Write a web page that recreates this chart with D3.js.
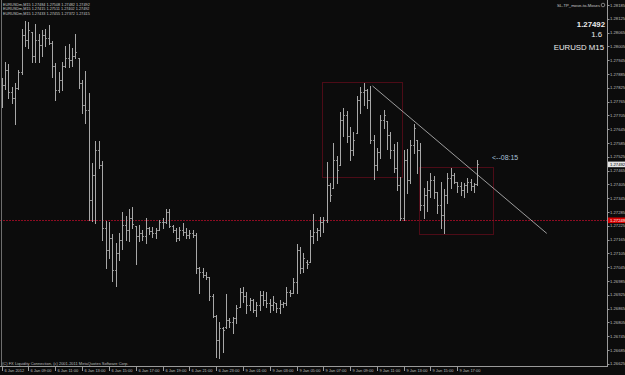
<!DOCTYPE html>
<html>
<head>
<meta charset="utf-8">
<script src="https://cdn.jsdelivr.net/npm/d3@7/dist/d3.min.js"></script>
<style>
  html, body { margin: 0; padding: 0; background: #0c0c0c; }
  svg { display: block; }
  text { font-family: "Liberation Sans", Arial, sans-serif; }
</style>
</head>
<body>
<div id="chart"></div>
<script>
// EURUSD M15, one bar per 15 minutes, 6 Jan 2012 07:00 onwards
const opens = [
  1.27772, 1.27837, 1.27902, 1.27807, 1.27781, 1.27824, 1.27894, 1.28055, 1.28033, 1.28068,
  1.27963, 1.28033, 1.28011, 1.28055, 1.28042, 1.28020, 1.27920, 1.27815, 1.27859, 1.27920,
  1.27955, 1.27946, 1.27963, 1.27955, 1.27846, 1.27750, 1.27729, 1.27337, 1.27446, 1.27555,
  1.27489, 1.27215, 1.27120, 1.27172, 1.27033, 1.27107, 1.27163, 1.27229, 1.27207, 1.27259,
  1.27224, 1.27181, 1.27194, 1.27181, 1.27215, 1.27202, 1.27194, 1.27207, 1.27242, 1.27242,
  1.27285, 1.27224, 1.27207, 1.27172, 1.27207, 1.27198, 1.27185, 1.27194, 1.27185, 1.27042,
  1.27024, 1.27011, 1.27002, 1.26920, 1.26833, 1.26728, 1.26781, 1.26785, 1.26815, 1.26807,
  1.26824, 1.26872, 1.26937, 1.26920, 1.26881, 1.26902, 1.26859, 1.26881, 1.26924, 1.26902,
  1.26889, 1.26881, 1.26889, 1.26868, 1.26885, 1.26889, 1.26937, 1.26933, 1.26981, 1.27120,
  1.27042, 1.27068, 1.27068, 1.27181, 1.27198, 1.27207, 1.27242, 1.27250, 1.27402, 1.27389,
  1.27511, 1.27489, 1.27685, 1.27707, 1.27615, 1.27555, 1.27628, 1.27772, 1.27807, 1.27815,
  1.27772, 1.27598, 1.27489, 1.27546, 1.27685, 1.27681, 1.27620, 1.27555, 1.27476, 1.27402,
  1.27259, 1.27511, 1.27424, 1.27576, 1.27598, 1.27555, 1.27315, 1.27359, 1.27381, 1.27424,
  1.27372, 1.27315, 1.27272, 1.27359, 1.27433, 1.27446, 1.27415, 1.27398, 1.27381, 1.27402,
  1.27415, 1.27398, 1.27407
]
const highs = [
  1.27868, 1.27937, 1.27928, 1.27828, 1.27846, 1.27902, 1.28081, 1.28115, 1.28111, 1.28068,
  1.28102, 1.28059, 1.28076, 1.28081, 1.28098, 1.28028, 1.27933, 1.27894, 1.27937, 1.28007,
  1.28015, 1.27998, 1.28059, 1.27955, 1.27859, 1.27898, 1.27802, 1.27498, 1.27594, 1.27594,
  1.27507, 1.27246, 1.27242, 1.27189, 1.27150, 1.27194, 1.27285, 1.27268, 1.27298, 1.27307,
  1.27224, 1.27229, 1.27207, 1.27259, 1.27220, 1.27220, 1.27215, 1.27250, 1.27259, 1.27298,
  1.27298, 1.27229, 1.27215, 1.27220, 1.27237, 1.27215, 1.27207, 1.27207, 1.27194, 1.27046,
  1.27042, 1.27024, 1.27002, 1.26928, 1.26837, 1.26807, 1.26785, 1.26928, 1.26824, 1.26828,
  1.26881, 1.26955, 1.26959, 1.26937, 1.26911, 1.26907, 1.26894, 1.26942, 1.26942, 1.26937,
  1.26907, 1.26920, 1.26889, 1.26902, 1.26894, 1.26959, 1.26946, 1.26998, 1.27146, 1.27133,
  1.27107, 1.27076, 1.27207, 1.27276, 1.27215, 1.27263, 1.27263, 1.27502, 1.27411, 1.27585,
  1.27528, 1.27720, 1.27737, 1.27724, 1.27655, 1.27633, 1.27789, 1.27828, 1.27846, 1.27820,
  1.27833, 1.27620, 1.27563, 1.27707, 1.27729, 1.27681, 1.27633, 1.27581, 1.27589, 1.27437,
  1.27555, 1.27559, 1.27598, 1.27668, 1.27598, 1.27585, 1.27389, 1.27420, 1.27455, 1.27442,
  1.27372, 1.27415, 1.27385, 1.27455, 1.27476, 1.27455, 1.27415, 1.27415, 1.27411, 1.27433,
  1.27428, 1.27411, 1.27511
]
const lows = [
  1.27742, 1.27820, 1.27781, 1.27759, 1.27668, 1.27820, 1.27885, 1.28007, 1.27998, 1.27937,
  1.27937, 1.27937, 1.27963, 1.28007, 1.28015, 1.27872, 1.27772, 1.27807, 1.27815, 1.27915,
  1.27915, 1.27920, 1.27955, 1.27824, 1.27715, 1.27672, 1.27250, 1.27246, 1.27237, 1.27476,
  1.27163, 1.27042, 1.27085, 1.26985, 1.26963, 1.27076, 1.27124, 1.27163, 1.27159, 1.27215,
  1.27059, 1.27159, 1.27163, 1.27150, 1.27189, 1.27176, 1.27172, 1.27207, 1.27215, 1.27237,
  1.27220, 1.27198, 1.27159, 1.27163, 1.27185, 1.27172, 1.27172, 1.27176, 1.27020, 1.26933,
  1.27002, 1.26994, 1.26902, 1.26828, 1.26655, 1.26650, 1.26676, 1.26781, 1.26785, 1.26759,
  1.26802, 1.26872, 1.26894, 1.26846, 1.26859, 1.26850, 1.26833, 1.26859, 1.26881, 1.26872,
  1.26850, 1.26859, 1.26850, 1.26846, 1.26872, 1.26881, 1.26920, 1.26933, 1.26933, 1.27020,
  1.27024, 1.27042, 1.27068, 1.27150, 1.27163, 1.27181, 1.27198, 1.27242, 1.27333, 1.27389,
  1.27411, 1.27489, 1.27615, 1.27589, 1.27511, 1.27533, 1.27628, 1.27715, 1.27750, 1.27737,
  1.27585, 1.27428, 1.27468, 1.27520, 1.27650, 1.27559, 1.27520, 1.27459, 1.27381, 1.27250,
  1.27250, 1.27368, 1.27411, 1.27542, 1.27455, 1.27294, 1.27259, 1.27289, 1.27350, 1.27346,
  1.27281, 1.27215, 1.27194, 1.27324, 1.27389, 1.27411, 1.27372, 1.27359, 1.27350, 1.27372,
  1.27381, 1.27372, 1.27402
]
const closes = [
  1.27837, 1.27902, 1.27807, 1.27781, 1.27824, 1.27894, 1.28055, 1.28033, 1.28076, 1.27963,
  1.28033, 1.28011, 1.28055, 1.28042, 1.28020, 1.27920, 1.27815, 1.27859, 1.27920, 1.27955,
  1.27946, 1.27963, 1.27981, 1.27846, 1.27750, 1.27729, 1.27337, 1.27446, 1.27555, 1.27489,
  1.27215, 1.27120, 1.27172, 1.27033, 1.27107, 1.27163, 1.27229, 1.27207, 1.27259, 1.27233,
  1.27181, 1.27194, 1.27181, 1.27215, 1.27202, 1.27194, 1.27207, 1.27242, 1.27242, 1.27285,
  1.27224, 1.27207, 1.27172, 1.27207, 1.27198, 1.27185, 1.27194, 1.27185, 1.27042, 1.27024,
  1.27011, 1.27002, 1.26920, 1.26833, 1.26728, 1.26781, 1.26772, 1.26815, 1.26807, 1.26824,
  1.26868, 1.26937, 1.26920, 1.26881, 1.26902, 1.26859, 1.26881, 1.26924, 1.26902, 1.26889,
  1.26881, 1.26894, 1.26868, 1.26885, 1.26889, 1.26937, 1.26933, 1.26981, 1.27120, 1.27042,
  1.27085, 1.27059, 1.27181, 1.27198, 1.27207, 1.27242, 1.27250, 1.27402, 1.27359, 1.27511,
  1.27468, 1.27685, 1.27707, 1.27615, 1.27555, 1.27598, 1.27772, 1.27807, 1.27815, 1.27772,
  1.27598, 1.27489, 1.27546, 1.27685, 1.27707, 1.27620, 1.27555, 1.27476, 1.27402, 1.27259,
  1.27511, 1.27424, 1.27576, 1.27650, 1.27555, 1.27315, 1.27359, 1.27381, 1.27424, 1.27372,
  1.27315, 1.27272, 1.27359, 1.27433, 1.27446, 1.27415, 1.27398, 1.27381, 1.27402, 1.27415,
  1.27398, 1.27407, 1.27492
]

const time_labels = [
  '6 Jan 2012', '6 Jan 09:00', '6 Jan 11:00', '6 Jan 13:00', '6 Jan 15:00', '6 Jan 17:00',
  '6 Jan 19:00', '6 Jan 21:00', '6 Jan 23:00', '9 Jan 01:00', '9 Jan 03:00', '9 Jan 05:00',
  '9 Jan 07:00', '9 Jan 09:00', '9 Jan 11:00', '9 Jan 13:00', '9 Jan 15:00', '9 Jan 17:00'
]
const bars_per_label = 8
const price_ticks = [
  1.28185, 1.28125, 1.28065, 1.28005, 1.27945, 1.27885, 1.27825, 1.27765, 1.27705, 1.27645,
  1.27585, 1.27525, 1.27465, 1.27405, 1.27345, 1.27285, 1.27225, 1.27165, 1.27105, 1.27045,
  1.26985, 1.26925, 1.26865, 1.26805, 1.26745, 1.26685, 1.26625
]

// chart objects, in bar index / price
const h_line = 1.27249
const trend_line = [[110.7, 1.27833], [162.7, 1.27192]]
const boxes = [
  { t0: 95.7, t1: 119.7, p0: 1.27849, p1: 1.27437 },
  { t0: 124.7, t1: 146.8, p0: 1.27482, p1: 1.27192 }
]
const bid = closes[closes.length - 1]

const width = 625
const height = 375
const plot_right = 607
const plot_bottom = 366
const object_red = '#8e0c22'

const svg = d3.select('#chart').append('svg')
    .attr('width', width)
    .attr('height', height)

svg.append('rect')
    .attr('width', width)
    .attr('height', height)
    .attr('fill', '#0c0c0c')

const x = d3.scaleLinear().domain([0, 142]).range([1.7, 477.4])
const y = d3.scaleLinear().domain([1.26625, 1.28185]).range([363.8, 5])

const plot = svg.append('g')

// horizontal line
plot.append('line')
    .attr('x1', 0).attr('x2', plot_right)
    .attr('y1', Math.round(y(h_line)) + 0.5).attr('y2', Math.round(y(h_line)) + 0.5)
    .attr('stroke', object_red)
    .attr('stroke-dasharray', '2,1')

// rectangles
plot.selectAll('rect.box')
    .data(boxes)
    .enter()
    .append('rect')
    .attr('class', 'box')
    .attr('x', d => Math.round(x(d.t0)) + 0.5)
    .attr('y', d => Math.round(y(d.p0)) + 0.5)
    .attr('width', d => Math.round(x(d.t1) - x(d.t0)))
    .attr('height', d => Math.round(y(d.p1) - y(d.p0)))
    .attr('fill', 'none')
    .attr('stroke', object_red)
    .attr('stroke-dasharray', '1,1')

// OHLC bars
const bars = d3.range(opens.length).map(i => ({
    i, o: opens[i], h: highs[i], l: lows[i], c: closes[i]
}))

const bar_g = plot.append('g').attr('fill', '#a8a8a8')
bars.forEach(d => {
    const bx = Math.round(x(d.i))
    const top = Math.round(y(d.h))
    const bot = Math.round(y(d.l))
    bar_g.append('rect')
        .attr('x', bx).attr('y', top)
        .attr('width', 1).attr('height', Math.max(1, bot - top + 1))
    bar_g.append('rect')
        .attr('x', bx - 1).attr('y', Math.round(y(d.o)))
        .attr('width', 1).attr('height', 1)
        .attr('fill', '#8a8a8a')
    bar_g.append('rect')
        .attr('x', bx + 1).attr('y', Math.round(y(d.c)))
        .attr('width', 1).attr('height', 1)
        .attr('fill', '#8a8a8a')
})

// trend line
plot.append('line')
    .attr('x1', x(trend_line[0][0])).attr('y1', y(trend_line[0][1]))
    .attr('x2', x(trend_line[1][0])).attr('y2', y(trend_line[1][1]))
    .attr('stroke', '#c0c0c0')
    .attr('stroke-width', 0.8)

// countdown
svg.append('text')
    .attr('x', 492).attr('y', 159.5)
    .attr('font-size', 7)
    .attr('fill', '#a9c1da')
    .text('<--08:15')

// frame
svg.append('line')
    .attr('x1', 1.5).attr('x2', 1.5).attr('y1', 0).attr('y2', plot_bottom)
    .attr('stroke', '#6e6e6e')
svg.append('line')
    .attr('x1', 0).attr('x2', plot_right + 1).attr('y1', plot_bottom + 0.5).attr('y2', plot_bottom + 0.5)
    .attr('stroke', '#9a9a9a')
svg.append('line')
    .attr('x1', plot_right + 0.5).attr('x2', plot_right + 0.5).attr('y1', 0).attr('y2', plot_bottom)
    .attr('stroke', '#9a9a9a')

// price axis
const price_axis = svg.append('g')
price_axis.selectAll('line')
    .data(price_ticks)
    .enter()
    .append('line')
    .attr('x1', plot_right).attr('x2', plot_right + 2.5)
    .attr('y1', d => Math.round(y(d)) + 0.5).attr('y2', d => Math.round(y(d)) + 0.5)
    .attr('stroke', '#9a9a9a')
price_axis.selectAll('text')
    .data(price_ticks)
    .enter()
    .append('text')
    .attr('x', plot_right + 3)
    .attr('y', d => y(d) + 1.5)
    .attr('font-size', 4.2)
    .attr('fill', '#bdbdbd')
    .text(d => d.toFixed(5))

const price_marks = [
    { p: bid, fill: '#e4e4e4', color: '#000' },
    { p: h_line, fill: '#d40000', color: '#fff' }
]
price_marks.forEach(m => {
    svg.append('rect')
        .attr('x', plot_right + 1).attr('y', y(m.p) - 2.8)
        .attr('width', 17).attr('height', 5.6)
        .attr('fill', m.fill)
    svg.append('text')
        .attr('x', plot_right + 3).attr('y', y(m.p) + 1.5)
        .attr('font-size', 4.2)
        .attr('fill', m.color)
        .text(m.p.toFixed(5))
})

// time axis
const time_axis = svg.append('g')
time_labels.forEach((label, k) => {
    const tx = Math.round(x(k * bars_per_label)) + 0.5
    time_axis.append('line')
        .attr('x1', tx).attr('x2', tx)
        .attr('y1', plot_bottom).attr('y2', plot_bottom + 5)
        .attr('stroke', '#9a9a9a')
    time_axis.append('text')
        .attr('x', tx + 2).attr('y', plot_bottom + 5.5)
        .attr('font-size', 4)
        .attr('fill', '#bdbdbd')
        .text(label)
})

// header lines
const header_lines = [
    'EURUSDm,M15  1.27484 1.27508 1.27482 1.27492',
    'EURUSDm,M15  1.27415 1.27511 1.27402 1.27492',
    'EURUSDm,M15  1.27433 1.27455 1.27372 1.27415'
]
header_lines.forEach((t, k) => {
    svg.append('text')
        .attr('x', 3).attr('y', 5.5 + k * 4.5)
        .attr('font-size', 3.8)
        .attr('fill', '#c8c8c8')
        .text(t)
})

svg.append('text')
    .attr('x', 2).attr('y', 364.5)
    .attr('font-size', 4)
    .attr('fill', '#bdbdbd')
    .text('(C) FX Liquidity Connection, (c) 2001-2011 MetaQuotes Software Corp.')

// info block top right
svg.append('text')
    .attr('x', 600).attr('y', 6.5)
    .attr('text-anchor', 'end')
    .attr('font-size', 4.2)
    .attr('fill', '#c8c8c8')
    .text('SL-TP_move-to-Moses')
svg.append('circle')
    .attr('cx', 603).attr('cy', 5).attr('r', 1.8)
    .attr('fill', 'none')
    .attr('stroke', '#c8c8c8')
    .attr('stroke-width', 0.6)

const info = [
    { t: bid.toFixed(5), y: 27, weight: 'bold', x: 605 },
    { t: '1.6', y: 36.5, weight: 'normal', x: 602 },
    { t: 'EURUSD M15', y: 49.5, weight: 'normal', x: 604 }
]
info.forEach(d => {
    svg.append('text')
        .attr('x', d.x).attr('y', d.y)
        .attr('text-anchor', 'end')
        .attr('font-size', 7.8)
        .attr('font-weight', d.weight)
        .attr('fill', '#ececec')
        .text(d.t)
})
</script>
</body>
</html>
